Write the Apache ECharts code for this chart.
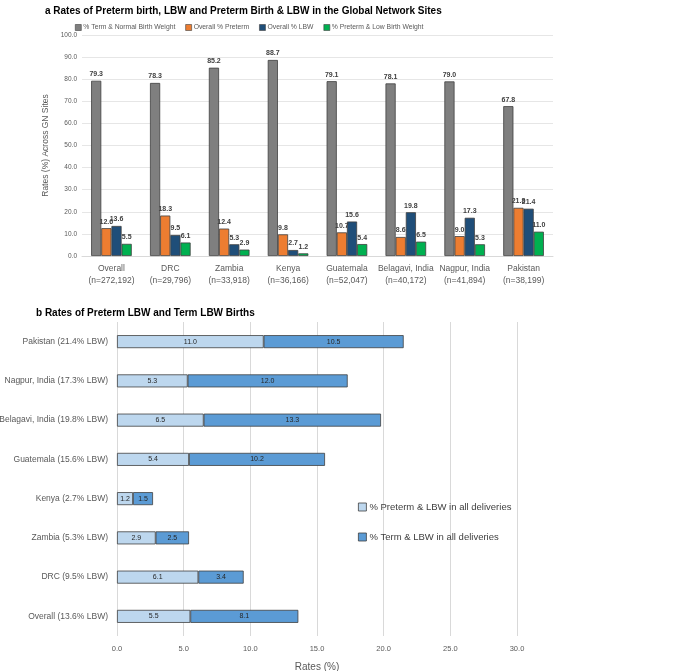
<!DOCTYPE html>
<html>
<head>
<meta charset="utf-8">
<script src="https://cdn.jsdelivr.net/npm/echarts@6/dist/echarts.min.js"></script>
<style>
html,body{margin:0;padding:0;background:#fff;}
#chart{width:685px;height:671px;}
</style>
</head>
<body>
<div id="chart"></div>
<script>
// ---- Panel a data ----
const siteNames = ['Overall', 'DRC', 'Zambia', 'Kenya', 'Guatemala', 'Belagavi, India', 'Nagpur, India', 'Pakistan'];
const sampleSizes = ['272,192', '29,796', '33,918', '36,166', '52,047', '40,172', '41,894', '38,199'];
const termNormalBW = [79.3, 78.3, 85.2, 88.7, 79.1, 78.1, 79.0, 67.8];
const overallPreterm = [12.6, 18.3, 12.4, 9.8, 10.7, 8.6, 9.0, 21.8];
const overallLBW = [13.6, 9.5, 5.3, 2.7, 15.6, 19.8, 17.3, 21.4];
const pretermLowBW = [5.5, 6.1, 2.9, 1.2, 5.4, 6.5, 5.3, 11.0];
const seriesNamesA = ['% Term & Normal Birth Weight', 'Overall % Preterm', 'Overall % LBW', '% Preterm & Low Birth Weight'];

// ---- Panel b data (bottom to top) ----
const categoriesB = ['Overall (13.6% LBW)', 'DRC (9.5% LBW)', 'Zambia (5.3% LBW)', 'Kenya (2.7% LBW)', 'Guatemala (15.6% LBW)', 'Belagavi, India (19.8% LBW)', 'Nagpur, India (17.3% LBW)', 'Pakistan (21.4% LBW)'];
const pretermLBWAll = [5.5, 6.1, 2.9, 1.2, 5.4, 6.5, 5.3, 11.0];
const termLBWAll = [8.1, 3.4, 2.5, 1.5, 10.2, 13.3, 12.0, 10.5];
const seriesNamesB = ['% Preterm & LBW in all deliveries', '% Term & LBW in all deliveries'];

const categoriesA = siteNames.map((s, i) => s + '\n(n=' + sampleSizes[i] + ')');
const colorsA = ['#7f7f7f', '#ed7d31', '#1f4e79', '#00b050'];
const colorsB = ['#bdd7ee', '#5b9bd5'];
const FONT = 'Liberation Sans, Arial, sans-serif';

const chart = echarts.init(document.getElementById('chart'), null, {renderer: 'canvas'});

const dataA = [termNormalBW, overallPreterm, overallLBW, pretermLowBW];
const seriesA = dataA.map((d, i) => ({
  name: seriesNamesA[i],
  type: 'bar',
  xAxisIndex: 0, yAxisIndex: 0,
  data: d,
  barGap: '0%',
  barCategoryGap: '31%',
  itemStyle: {color: colorsA[i], borderColor: '#404040', borderWidth: 0.8},
  label: {show: true, position: 'top', distance: 3, fontSize: 7, fontFamily: FONT, fontWeight: 'bold', color: '#404040',
          formatter: p => p.value.toFixed(1)}
}));

const dataB = [pretermLBWAll, termLBWAll];
const seriesB = dataB.map((d, i) => ({
  name: seriesNamesB[i],
  type: 'bar',
  stack: 'lbw',
  xAxisIndex: 1, yAxisIndex: 1,
  data: d,
  barWidth: 13,
  itemStyle: {color: colorsB[i], borderColor: '#404040', borderWidth: 0.8},
  label: {show: true, position: 'inside', fontSize: 7, fontFamily: FONT, color: '#262626',
          formatter: p => p.value.toFixed(1)}
}));

chart.setOption({
  animation: false,
  backgroundColor: '#fff',
  title: [
    {text: 'a Rates of Preterm birth, LBW and Preterm Birth & LBW in the Global Network Sites', left: 40, top: 1,
     textStyle: {fontSize: 10, fontWeight: 'bold', fontFamily: FONT, color: '#000'}},
    {text: 'b Rates of Preterm LBW and Term LBW Births', left: 31, top: 303,
     textStyle: {fontSize: 10, fontWeight: 'bold', fontFamily: FONT, color: '#000'}}
  ],
  legend: [
    {data: seriesNamesA, left: 70, top: 19, itemWidth: 6, itemHeight: 6, itemGap: 10, icon: 'rect',
     itemStyle: {borderColor: '#404040', borderWidth: 0.6},
     textStyle: {fontSize: 6.8, color: '#595959', fontFamily: FONT, padding: [0, 0, 0, -3]}},
    {data: seriesNamesB, left: 353, top: 497, orient: 'vertical', itemWidth: 8, itemHeight: 8, itemGap: 20, icon: 'rect',
     itemStyle: {borderColor: '#404040', borderWidth: 0.8},
     textStyle: {fontSize: 9.5, color: '#404040', fontFamily: FONT, padding: [0, 0, 0, -2]}}
  ],
  grid: [
    {left: 82, width: 471, top: 35, height: 221, outerBoundsMode: 'none', containLabel: false},
    {left: 117, width: 400, top: 322, height: 314, outerBoundsMode: 'none', containLabel: false}
  ],
  xAxis: [
    {type: 'category', gridIndex: 0, data: categoriesA,
     axisLine: {lineStyle: {color: '#d9d9d9'}}, axisTick: {show: false},
     axisLabel: {fontSize: 8.5, color: '#595959', fontFamily: FONT, margin: 7, lineHeight: 12, interval: 0}},
    {type: 'value', gridIndex: 1, min: 0, max: 30, interval: 5,
     axisLine: {show: false}, axisTick: {show: false},
     splitLine: {lineStyle: {color: '#d9d9d9'}},
     axisLabel: {fontSize: 7.5, color: '#595959', fontFamily: FONT, margin: 9, formatter: v => v.toFixed(1)},
     name: 'Rates (%)', nameLocation: 'middle', nameGap: 26,
     nameTextStyle: {fontSize: 10, color: '#595959', fontFamily: FONT}}
  ],
  yAxis: [
    {type: 'value', gridIndex: 0, min: 0, max: 100, interval: 10,
     axisLine: {show: false}, axisTick: {show: false},
     splitLine: {lineStyle: {color: '#e6e6e6'}},
     axisLabel: {fontSize: 6.5, color: '#595959', fontFamily: FONT, margin: 5, formatter: v => v.toFixed(1)},
     name: 'Rates (%) Across GN Sites', nameLocation: 'middle', nameGap: 17,
     nameTextStyle: {fontSize: 8.5, color: '#595959', fontFamily: FONT}},
    {type: 'category', gridIndex: 1, data: categoriesB,
     axisLine: {show: false}, axisTick: {show: false},
     axisLabel: {fontSize: 8.5, color: '#595959', fontFamily: FONT, margin: 9, interval: 0}}
  ],
  series: seriesA.concat(seriesB)
});
</script>
</body>
</html>
